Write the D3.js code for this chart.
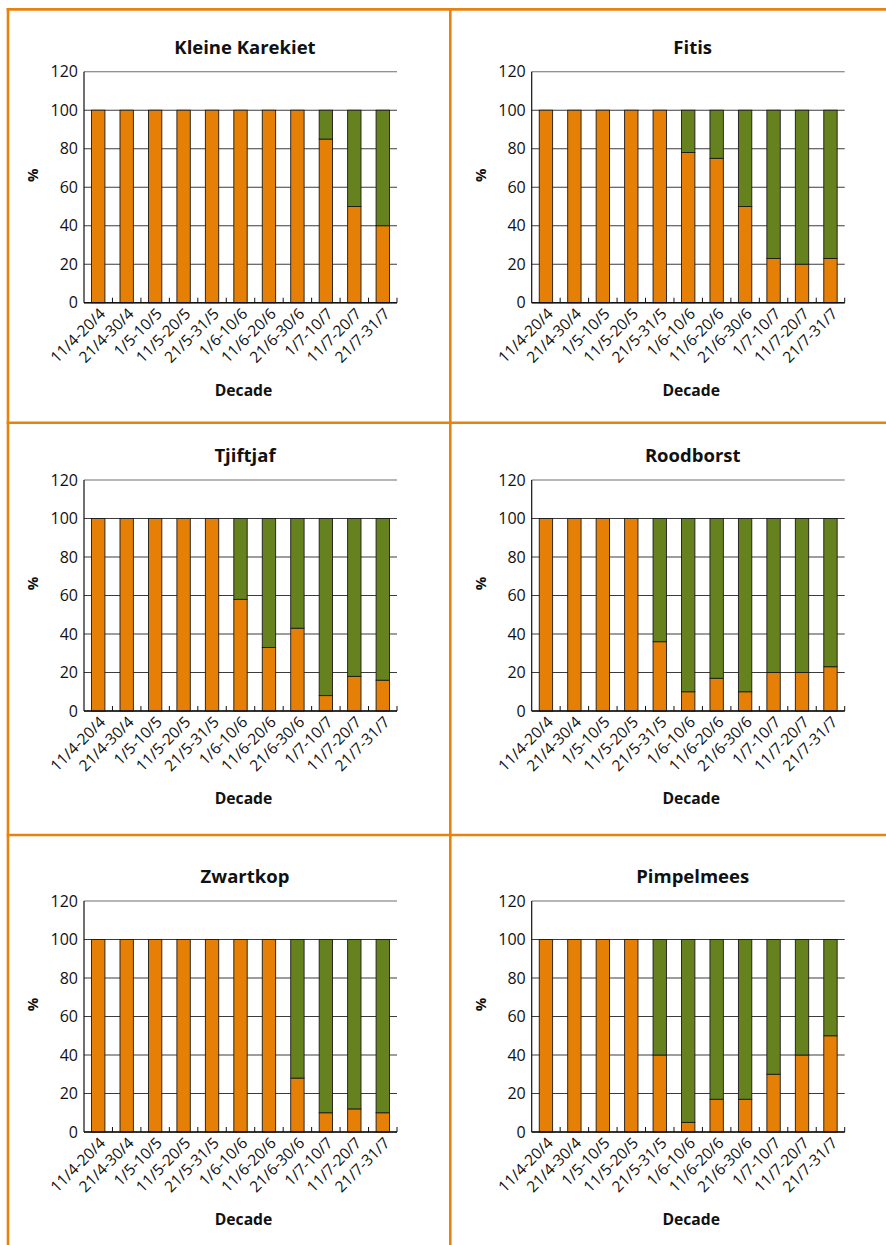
<!DOCTYPE html>
<html>
<head>
<meta charset="utf-8">
<script src="https://cdn.jsdelivr.net/npm/d3@7"></script>
<style>
  body { margin: 0; background: #fff; }
  svg { display: block; }
  text { font-family: "Open Sans", "Noto Sans", sans-serif; fill: #111; }
</style>
</head>
<body>
<svg id="chart" width="886" height="1245"></svg>
<script>
// Ten-day periods (decades) on the x axis
const decades = ["11/4-20/4", "21/4-30/4", "1/5-10/5", "11/5-20/5", "21/5-31/5",
                 "1/6-10/6", "11/6-20/6", "21/6-30/6", "1/7-10/7", "11/7-20/7", "21/7-31/7"];
const yTicks = [0, 20, 40, 60, 80, 100, 120];
const species = ["Kleine Karekiet", "Fitis", "Tjiftjaf", "Roodborst", "Zwartkop", "Pimpelmees"];

// Orange (lower) share in % per decade
const orangeKleineKarekiet = [100, 100, 100, 100, 100, 100, 100, 100, 85, 50, 40];
const orangeFitis          = [100, 100, 100, 100, 100, 78, 75, 50, 23, 20, 23];
const orangeTjiftjaf       = [100, 100, 100, 100, 100, 58, 33, 43, 8, 18, 16];
const orangeRoodborst      = [100, 100, 100, 100, 36, 10, 17, 10, 20, 20, 23];
const orangeZwartkop       = [100, 100, 100, 100, 100, 100, 100, 28, 10, 12, 10];
const orangePimpelmees     = [100, 100, 100, 100, 40, 5, 17, 17, 30, 40, 50];

// Green (upper) share in % per decade
const greenKleineKarekiet = [0, 0, 0, 0, 0, 0, 0, 0, 15, 50, 60];
const greenFitis          = [0, 0, 0, 0, 0, 22, 25, 50, 77, 80, 77];
const greenTjiftjaf       = [0, 0, 0, 0, 0, 42, 67, 57, 92, 82, 84];
const greenRoodborst      = [0, 0, 0, 0, 64, 90, 83, 90, 80, 80, 77];
const greenZwartkop       = [0, 0, 0, 0, 0, 0, 0, 72, 90, 88, 90];
const greenPimpelmees     = [0, 0, 0, 0, 60, 95, 83, 83, 70, 60, 50];

const orangeSeries = [orangeKleineKarekiet, orangeFitis, orangeTjiftjaf, orangeRoodborst, orangeZwartkop, orangePimpelmees];
const greenSeries  = [greenKleineKarekiet, greenFitis, greenTjiftjaf, greenRoodborst, greenZwartkop, greenPimpelmees];

const ORANGE = "#e57f05";
const GREEN = "#65821f";
const FRAME = "#e8820c";

const svg = d3.select("#chart");

// Panel grid: plot-area origins for the two columns and three rows
const colLeft = [84, 531.7];
const rowTop = [71.7, 480, 901];
const W = 313, H = 231;

const x = d3.scaleBand().domain(decades).range([0, W]).paddingInner(0.53).paddingOuter(0.265);
const y = d3.scaleLinear().domain([0, 120]).range([H, 0]);

species.forEach((name, i) => {
  const col = i % 2, row = Math.floor(i / 2);
  const g = svg.append("g").attr("transform", `translate(${colLeft[col]},${rowTop[row]})`);

  const rows = decades.map((d, k) => ({ decade: d, orange: orangeSeries[i][k], green: greenSeries[i][k] }));
  const stacked = d3.stack().keys(["orange", "green"])(rows);

  // horizontal gridlines
  g.selectAll("line.grid").data(yTicks).join("line")
    .attr("class", "grid")
    .attr("x1", 0).attr("x2", W)
    .attr("y1", d => y(d)).attr("y2", d => y(d))
    .attr("stroke", d => d === 120 ? "#6e6e6e" : "#3c3c3c")
    .attr("stroke-width", 1.1);

  // stacked bars
  const colors = { orange: ORANGE, green: GREEN };
  stacked.forEach(layer => {
    g.append("g").selectAll("rect").data(layer.filter(s => s[1] - s[0] > 0)).join("rect")
      .attr("x", s => x(s.data.decade))
      .attr("width", x.bandwidth())
      .attr("y", s => y(s[1]))
      .attr("height", s => y(s[0]) - y(s[1]))
      .attr("fill", colors[layer.key])
      .attr("stroke", "#1a1a1a")
      .attr("stroke-width", 0.9);
  });

  // y axis
  const yAxis = d3.axisLeft(y).tickValues(yTicks).tickSize(0).tickPadding(6);
  const ya = g.append("g").call(yAxis);
  ya.select(".domain").attr("stroke", "#111").attr("stroke-width", 1.2).attr("d", `M0,${y(0)}V${y(120)}`);
  ya.selectAll("text").style("font-size", "16px").attr("fill", "#111");

  // x axis: baseline with inner ticks between the bars
  const xa = g.append("g").attr("transform", `translate(0,${H})`);
  xa.append("line").attr("x1", 0).attr("x2", W).attr("stroke", "#111").attr("stroke-width", 1.4);
  xa.selectAll("line.tk").data(d3.range(1, decades.length + 1)).join("line")
    .attr("class", "tk")
    .attr("x1", k => k * x.step()).attr("x2", k => k * x.step())
    .attr("y1", 0).attr("y2", -5)
    .attr("stroke", "#111").attr("stroke-width", 1);
  xa.selectAll("text").data(decades).join("text")
    .attr("transform", d => `translate(${x(d) + x.bandwidth() / 2 + 8},${12}) rotate(-45)`)
    .attr("text-anchor", "end")
    .style("font-size", "15.5px")
    .text(d => d);

  // titles and axis labels
  g.append("text")
    .attr("x", W / 2 + 4.5).attr("y", -18)
    .attr("text-anchor", "middle")
    .style("font-size", "18.5px").style("font-weight", "bold")
    .text(name);
  g.append("text")
    .attr("transform", `translate(-46,${H / 2 - 12}) rotate(-90)`)
    .attr("text-anchor", "middle")
    .style("font-size", "15px").style("font-weight", "bold")
    .text("%");
  g.append("text")
    .attr("x", W / 2 + 3).attr("y", H + 93)
    .attr("text-anchor", "middle")
    .style("font-size", "15.7px").style("font-weight", "bold")
    .text("Decade");
});

// orange frame lines separating the panels
const frame = svg.append("g").attr("stroke", FRAME).attr("stroke-width", 2.6);
frame.append("line").attr("x1", 6.7).attr("x2", 886).attr("y1", 9.4).attr("y2", 9.4);
frame.append("line").attr("x1", 8).attr("x2", 8).attr("y1", 8.1).attr("y2", 1245);
frame.append("line").attr("x1", 450.3).attr("x2", 450.3).attr("y1", 8.1).attr("y2", 1245);
frame.append("line").attr("x1", 6.7).attr("x2", 886).attr("y1", 422.7).attr("y2", 422.7);
frame.append("line").attr("x1", 6.7).attr("x2", 886).attr("y1", 835).attr("y2", 835);
</script>
</body>
</html>
